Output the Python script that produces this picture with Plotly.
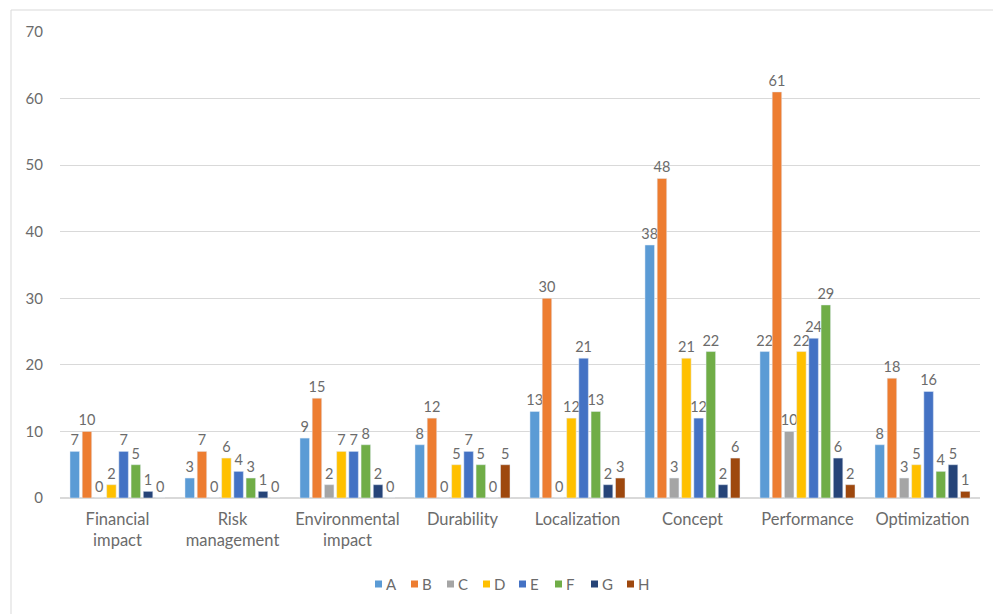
import plotly.graph_objects as go

categories = ["Financial<br>impact", "Risk<br>management", "Environmental<br>impact", "Durability",
              "Localization", "Concept", "Performance", "Optimization"]
series_names = ["A", "B", "C", "D", "E", "F", "G", "H"]
A = [7, 3, 9, 8, 13, 38, 22, 8]
B = [10, 7, 15, 12, 30, 48, 61, 18]
C = [0, 0, 2, 0, 0, 3, 10, 3]
D = [2, 6, 7, 5, 12, 21, 22, 5]
E = [7, 4, 7, 7, 21, 12, 24, 16]
F = [5, 3, 8, 5, 13, 22, 29, 4]
G = [1, 1, 2, 0, 2, 2, 6, 5]
H = [0, 0, 0, 5, 3, 6, 2, 1]
series_values = [A, B, C, D, E, F, G, H]
colors = ["#5B9BD5", "#ED7D31", "#A5A5A5", "#FFC000", "#4472C4", "#70AD47", "#264478", "#9E480E"]
y_ticks = [0, 10, 20, 30, 40, 50, 60, 70]

FONT = "Lato, Liberation Sans, sans-serif"
TXT = "#6B6B6B"
fig = go.Figure()
for name, vals, col in zip(series_names, series_values, colors):
    fig.add_trace(go.Bar(
        name=name, x=categories, y=vals, marker_color=col,
        text=[str(v) for v in vals], textposition="outside", constraintext="none",
        textfont=dict(color=TXT, size=14.5, family=FONT),
        cliponaxis=False, showlegend=False,
    ))

# custom compact legend (Excel style): small square + label
W, Hh = 993, 614
ml, mr, mt, mb = 60, 13, 32, 116
pw, ph = W - ml - mr, Hh - mt - mb
def px_x(x):
    return (x - ml) / pw
def px_y(y):
    return (Hh - mb - y) / ph

shapes = [dict(type="rect", xref="paper", yref="paper", x0=px_x(11), x1=px_x(1000), y0=px_y(620), y1=px_y(10),
               line=dict(color="#D9D9D9", width=1), fillcolor="rgba(0,0,0,0)", layer="below")]
annotations = []
leg_x0, leg_step, leg_y = 375, 36, 584
for i, (name, col) in enumerate(zip(series_names, colors)):
    sx = leg_x0 + i * leg_step
    shapes.append(dict(type="rect", xref="paper", yref="paper",
                       x0=px_x(sx), x1=px_x(sx + 7), y0=px_y(leg_y + 3.5), y1=px_y(leg_y - 3.5),
                       line=dict(width=0), fillcolor=col))
    annotations.append(dict(xref="paper", yref="paper", x=px_x(sx + 9), y=px_y(leg_y),
                            xanchor="left", yanchor="middle", text=name, showarrow=False,
                            font=dict(size=15, color=TXT, family=FONT)))

fig.update_layout(
    width=W, height=Hh,
    margin=dict(l=ml, r=mr, t=mt, b=mb),
    paper_bgcolor="white", plot_bgcolor="white",
    barmode="group", bargap=0.15, bargroupgap=0.22,
    font=dict(family=FONT, color=TXT, size=15),
    showlegend=False,
    yaxis=dict(range=[0, 70], tickvals=y_ticks, showgrid=True, gridcolor="#D9D9D9",
               gridwidth=1, zeroline=True, zerolinecolor="#D9D9D9", ticks="",
               ticklabelstandoff=16,
               tickfont=dict(size=15, color=TXT), showline=False),
    xaxis=dict(showline=False, ticks="", ticklabelstandoff=9,
               tickfont=dict(size=16.5, color=TXT)),
    shapes=shapes,
    annotations=annotations,
)
fig.write_html("out.html")
